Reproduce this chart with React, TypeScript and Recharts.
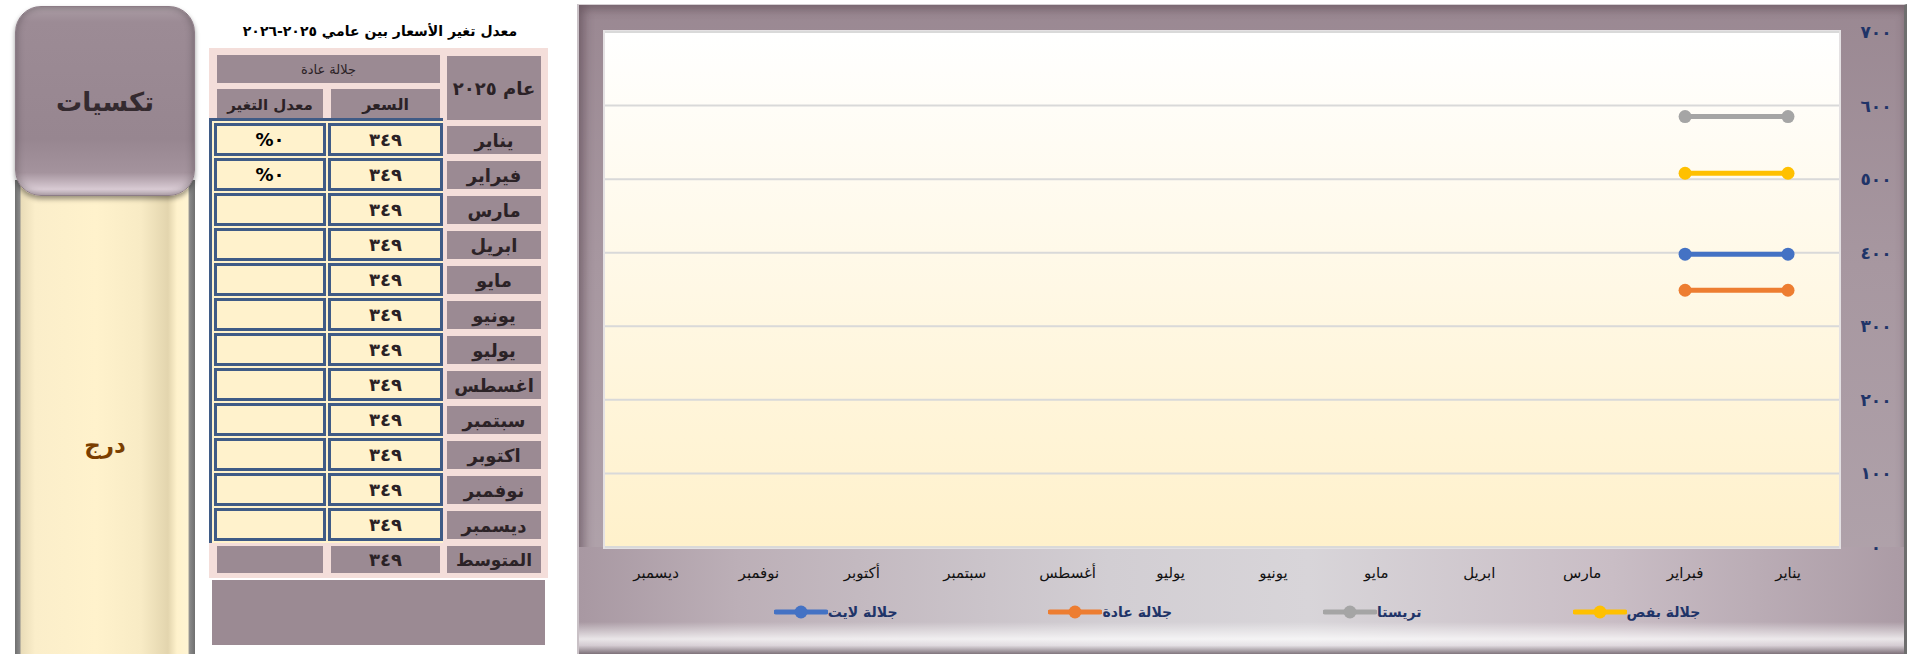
import { LineChart, Line, XAxis, YAxis, CartesianGrid, Legend } from 'recharts'

const months = ['يناير', 'فبراير', 'مارس', 'ابريل', 'مايو', 'يونيو', 'يوليو', 'أغسطس', 'سبتمبر', 'أكتوبر', 'نوفمبر', 'ديسمبر']

// values (only Jan/Feb are filled in)
const galalaBafs = [508, 508, null, null, null, null, null, null, null, null, null, null]
const trista = [585, 585, null, null, null, null, null, null, null, null, null, null]
const galalaAda = [349, 349, null, null, null, null, null, null, null, null, null, null]
const galalaLight = [398, 398, null, null, null, null, null, null, null, null, null, null]

const yTicks = [0, 100, 200, 300, 400, 500, 600, 700]

// side table
const tableMonths = ['يناير', 'فيراير', 'مارس', 'ابريل', 'مايو', 'يونيو', 'يوليو', 'اغسطس', 'سبتمبر', 'اكتوبر', 'نوفمبر', 'ديسمبر']
const tablePrices = [349, 349, 349, 349, 349, 349, 349, 349, 349, 349, 349, 349]
const tableChange = ['٠%', '٠%', '', '', '', '', '', '', '', '', '', '']
const tableAverage = 349

const series = [
  { key: 'bafs', name: 'جلالة بفص', color: '#FFC000' },
  { key: 'trista', name: 'تريستا', color: '#A5A5A5' },
  { key: 'ada', name: 'جلالة عادة', color: '#ED7D31' },
  { key: 'light', name: 'جلالة لايت', color: '#4472C4' },
]

const chartData = months.map((m, i) => ({
  month: m,
  bafs: galalaBafs[i],
  trista: trista[i],
  ada: galalaAda[i],
  light: galalaLight[i],
}))

const FONT = '"DejaVu Sans", Arial, sans-serif'
const MAUVE = '#9B8A93'
const PINK = '#F4DEDA'
const CREAM = '#FFF2CC'
const NAVY = '#3F5B86'

const arDigits = (v: number | string) => String(v).replace(/\d/g, (d) => '٠١٢٣٤٥٦٧٨٩'[+d])

function Box({ x, y, w, h, style, children }: any) {
  return (
    <div
      style={{
        position: 'absolute', left: x, top: y, width: w, height: h, boxSizing: 'border-box',
        display: 'flex', alignItems: 'center', justifyContent: 'center', direction: 'rtl',
        fontFamily: FONT, color: '#2b2226', ...style,
      }}
    >
      {children}
    </div>
  )
}

// legend items flow right-to-left, marker on the left of each label
function renderLegend() {
  return (
    <div style={{ display: 'flex', flexDirection: 'row-reverse', justifyContent: 'center', gap: 151, height: 30, alignItems: 'center', paddingRight: 30 }}>
      {series.map((s) => (
        <div key={s.key} style={{ display: 'flex', alignItems: 'center' }}>
          <svg width={54} height={14}>
            <line x1={2} y1={7} x2={52} y2={7} stroke={s.color} strokeWidth={5} strokeLinecap="round" />
            <circle cx={27} cy={7} r={6.5} fill={s.color} />
          </svg>
          <span style={{ fontFamily: FONT, fontWeight: 'bold', fontSize: 14, color: '#1F3468', direction: 'rtl' }}>{s.name}</span>
        </div>
      ))}
    </div>
  )
}

export default function App() {
  return (
    <div style={{ position: 'absolute', left: 0, top: 0, width: 1931, height: 654, overflow: 'hidden', background: '#fff' }}>
      {/* side panel */}
      <div style={{
        position: 'absolute', left: 15, top: 180, width: 180, height: 480, boxSizing: 'border-box',
        background: 'linear-gradient(to right, #6f6f6f 0px, #8a8a8a 5px, #e9dcb8 6px, #fbeeca 20px, #fff2cc 45%, #f8ebc5 70%, #e3d5ae 85%, #fff2cc 90%, #fff4d2 96%, #8a8a8a 97%, #6f6f6f 100%)',
      }} />
      <Box x={15} y={420} w={180} h={50} style={{ fontSize: 23, fontWeight: 'bold', color: '#7A3E00' }}>درج</Box>
      <div style={{
        position: 'absolute', left: 15, top: 6, width: 180, height: 190, borderRadius: 26, boxSizing: 'border-box',
        background: 'linear-gradient(to bottom, #aa9ca4 0%, #9c8b95 8%, #978690 70%, #a4939d 88%, #d9cbd4 97%, #c7b7c1 100%)',
        boxShadow: '0 3px 5px rgba(0,0,0,0.4), inset 3px 0 6px rgba(0,0,0,0.15), inset -3px 0 6px rgba(0,0,0,0.15)',
        border: '1px solid #8c7c86',
      }} />
      <Box x={15} y={78} w={180} h={48} style={{ fontSize: 26, fontWeight: 'bold', color: '#342a2f' }}>تكسيات</Box>

      {/* table */}
      <Box x={230} y={18} w={300} h={26} style={{ fontSize: 14, fontWeight: 'bold', color: '#000' }}>
        معدل تغير الأسعار بين عامي ٢٠٢٥-٢٠٢٦
      </Box>
      <div style={{ position: 'absolute', left: 209, top: 48, width: 339, height: 530, background: PINK }} />
      <Box x={217} y={55} w={223} h={28} style={{ background: MAUVE, fontSize: 13 }}>جلالة عادة</Box>
      <Box x={447} y={56} w={94} h={64} style={{ background: MAUVE, fontSize: 18, fontWeight: 'bold' }}>عام ٢٠٢٥</Box>
      <Box x={217} y={89} w={106} h={31} style={{ background: MAUVE, fontSize: 15, fontWeight: 'bold' }}>معدل التغير</Box>
      <Box x={331} y={89} w={109} h={31} style={{ background: MAUVE, fontSize: 16, fontWeight: 'bold' }}>السعر</Box>
      <div style={{ position: 'absolute', left: 209, top: 118, width: 234, height: 425, background: CREAM, borderLeft: `3px solid ${NAVY}`, borderTop: `3px solid ${NAVY}`, boxSizing: 'border-box' }} />
      {tableMonths.map((m, i) => (
        <div key={m}>
          <Box x={447} y={126 + 35 * i} w={94} h={28} style={{ background: MAUVE, fontSize: 18, fontWeight: 'bold' }}>{m}</Box>
          <Box x={214} y={123 + 35 * i} w={112} h={33} style={{ background: CREAM, border: `3px solid ${NAVY}`, fontSize: 18, fontWeight: 'bold', color: '#000' }}>
            {tableChange[i]}
          </Box>
          <Box x={328} y={123 + 35 * i} w={115} h={33} style={{ background: CREAM, border: `3px solid ${NAVY}`, fontSize: 18, fontWeight: 'bold' }}>
            {arDigits(tablePrices[i])}
          </Box>
        </div>
      ))}
      <Box x={217} y={546} w={106} h={27} style={{ background: MAUVE }} />
      <Box x={331} y={546} w={109} h={27} style={{ background: MAUVE, fontSize: 18, fontWeight: 'bold' }}>{arDigits(tableAverage)}</Box>
      <Box x={447} y={546} w={94} h={27} style={{ background: MAUVE, fontSize: 17, fontWeight: 'bold' }}>المتوسط</Box>
      <div style={{ position: 'absolute', left: 212, top: 580, width: 333, height: 65, background: MAUVE }} />

      {/* chart frame */}
      <div style={{
        position: 'absolute', left: 577, top: 4, width: 1330, height: 650, boxSizing: 'border-box',
        background: 'linear-gradient(to bottom, #9a8892 0%, #a797a0 40%, #b2a5ad 100%)',
        borderLeft: '2px solid #c9c1c6', borderTop: '1px solid #d6d0d3', borderRight: '3px solid #6e6e6e',
        boxShadow: 'inset 6px 0 10px rgba(70,50,60,0.35), inset 0 6px 8px rgba(70,50,60,0.25)',
      }} />
      <div style={{
        position: 'absolute', left: 579, top: 547, width: 1325, height: 107,
        background: 'linear-gradient(to right, #a898a2 0%, #bcafb7 12%, #d2ced3 40%, #d8d5d9 55%, #c9bdc5 78%, #ab9ba5 100%)',
      }} />
      <div style={{
        position: 'absolute', left: 579, top: 547, width: 1325, height: 107,
        background: 'linear-gradient(to bottom, rgba(255,255,255,0) 70%, rgba(255,255,255,0.75) 86%, rgba(240,236,240,0.6) 92%, rgba(120,108,116,0.9) 100%)',
      }} />
      <div style={{ position: 'absolute', left: 603, top: 30, width: 1238, height: 519, background: '#e4e1e3' }} />

      <div style={{ position: 'absolute', left: 577, top: 4 }}>
        <LineChart width={1330} height={650} data={chartData} margin={{ top: 28, right: 8, bottom: 27, left: 28 }}>
          <defs>
            <linearGradient id="plotBg" x1="0" y1="0" x2="0" y2="1">
              <stop offset="0%" stopColor="#FFFFFF" />
              <stop offset="100%" stopColor="#FFF1CB" />
            </linearGradient>
          </defs>
          <CartesianGrid vertical={false} fill="url(#plotBg)" stroke="#D9D9D9" strokeWidth={2} />
          <XAxis
            dataKey="month"
            reversed
            axisLine={false}
            tickLine={false}
            interval={0}
            height={50}
            tickMargin={14}
            padding={{ left: 51, right: 51 }}
            tick={{ fill: '#111', fontSize: 15, fontFamily: FONT }}
          />
          <YAxis
            orientation="right"
            domain={[0, 700]}
            ticks={yTicks}
            axisLine={false}
            tickLine={false}
            width={60}
            tickMargin={31}
            tickFormatter={arDigits}
            tick={{ fill: '#1F3468', fontSize: 17, fontWeight: 'bold', fontFamily: FONT, textAnchor: 'middle' }}
          />
          <Legend verticalAlign="bottom" content={renderLegend} wrapperStyle={{ height: 30 }} />
          {series.map((s) => (
            <Line
              key={s.key}
              type="linear"
              dataKey={s.key}
              name={s.name}
              stroke={s.color}
              strokeWidth={5}
              dot={{ r: 6.5, fill: s.color, stroke: s.color, strokeWidth: 0 }}
              activeDot={false}
              isAnimationActive={false}
            />
          ))}
        </LineChart>
      </div>
    </div>
  )
}
